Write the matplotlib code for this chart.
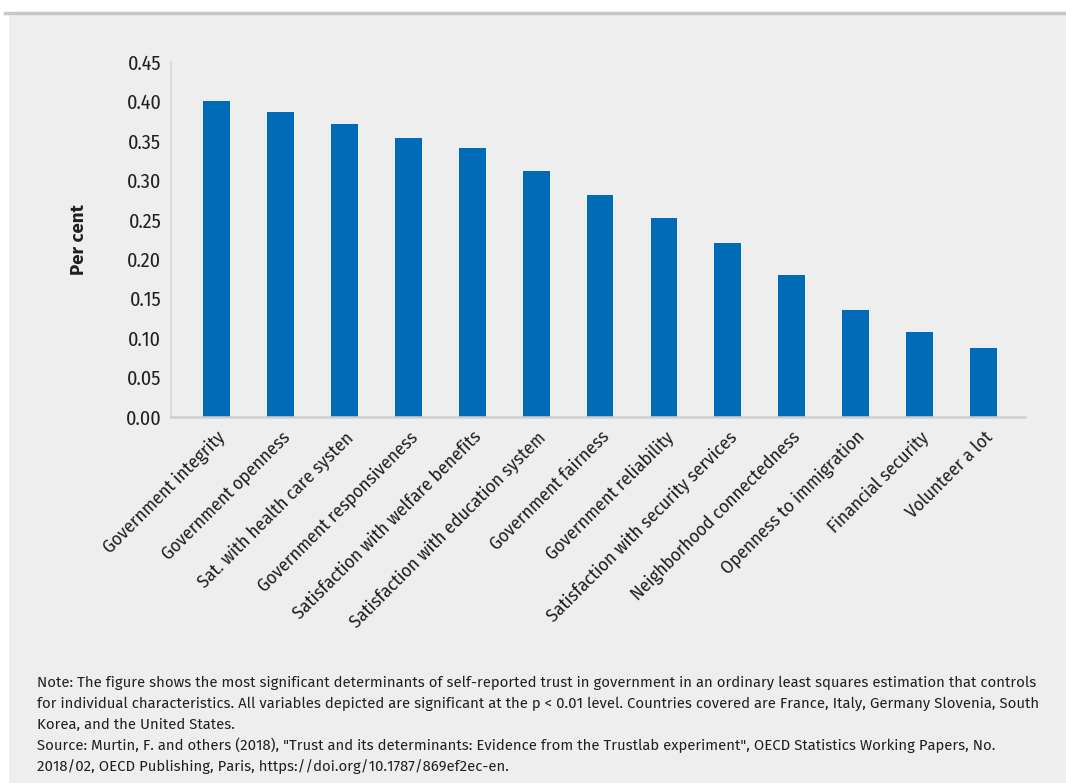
import matplotlib
matplotlib.use("Agg")
import matplotlib.pyplot as plt
from matplotlib.patches import Rectangle
from matplotlib.ticker import FormatStrFormatter

categories = ["Government integrity", "Government openness", "Sat. with health care systen",
              "Government responsiveness", "Satisfaction with welfare benefits",
              "Satisfaction with education system", "Government fairness",
              "Government reliability", "Satisfaction with security services",
              "Neighborhood connectedness", "Openness to immigration",
              "Financial security", "Volunteer a lot"]
values = [0.400, 0.387, 0.372, 0.354, 0.341, 0.312, 0.281, 0.252, 0.221, 0.180, 0.136, 0.108, 0.088]
yticks = [0.00, 0.05, 0.10, 0.15, 0.20, 0.25, 0.30, 0.35, 0.40, 0.45]

note_lines = [
    "Note: The figure shows the most significant determinants of self-reported trust in government in an ordinary least squares estimation that controls",
    "for individual characteristics. All variables depicted are significant at the p < 0.01 level. Countries covered are France, Italy, Germany Slovenia, South",
    "Korea, and the United States.",
    "Source: Murtin, F. and others (2018), \"Trust and its determinants: Evidence from the Trustlab experiment\", OECD Statistics Working Papers, No.",
    "2018/02, OECD Publishing, Paris, https://doi.org/10.1787/869ef2ec-en.",
]

W, H = 1066, 783
narrow = ["Fira Sans Condensed", "DejaVu Sans"]
body = ["Fira Sans", "Open Sans", "DejaVu Sans"]
txt = "#231f20"

fig = plt.figure(figsize=(W / 100, H / 100), dpi=100)
fig.patch.set_facecolor("white")
# grey panel and top rule
fig.add_artist(Rectangle((9 / W, 0), 1 - 9 / W, 1 - 13 / H, transform=fig.transFigure,
                         facecolor="#eeeeee", edgecolor="none", zorder=0))
fig.add_artist(plt.Line2D([5 / W, 1], [1 - 12.5 / H, 1 - 12.5 / H], transform=fig.transFigure,
                          color="#c8c8c8", lw=2.5))

ax = fig.add_axes([171 / W, 1 - 417 / H, (1025 - 171) / W, (417 - 62) / H])
ax.set_facecolor("none")
x = range(len(categories))
ax.bar(x, values, width=0.42, color="#006bb6", zorder=2)
ax.set_xlim(-0.715, 12.65)
ax.set_ylim(0, 0.45)
ax.set_yticks(yticks)
ax.yaxis.set_major_formatter(FormatStrFormatter("%.2f"))
ax.set_xticks(list(x))
ax.set_xticklabels(categories, rotation=45, ha="right", rotation_mode="anchor",
                   family=narrow, fontstretch="condensed", fontsize=13.5, color=txt)
for lab in ax.get_yticklabels():
    lab.set_family(narrow)
    lab.set_fontstretch("condensed")
    lab.set_fontsize(14.5)
    lab.set_color(txt)
ax.tick_params(axis="both", length=0)
ax.tick_params(axis="y", pad=7)
ax.tick_params(axis="x", pad=8)
for s in ["top", "right"]:
    ax.spines[s].set_visible(False)
ax.spines["bottom"].set_color("#cfcfcf")
ax.spines["bottom"].set_linewidth(1.8)
ax.spines["left"].set_color("#d6d6d6")
ax.spines["left"].set_linewidth(1.2)
ax.set_ylabel("Per cent", fontsize=13.5, fontweight="bold", family=body, color=txt)
ax.yaxis.set_label_coords(-0.098, 0.5)

# note lines, sized so the first one spans the same width as in the source
y0 = 683
texts = []
for i, line in enumerate(note_lines):
    texts.append(fig.text(37 / W, 1 - (y0 + i * 20.8) / H, line, fontsize=10, family=body,
                          color=txt, va="center", ha="left"))
r = fig.canvas.get_renderer()
w = texts[0].get_window_extent(renderer=r).width
fs = 10 * 993 / w
for t in texts:
    t.set_fontsize(fs)

fig.savefig("out.png", dpi=100, facecolor=fig.get_facecolor())
